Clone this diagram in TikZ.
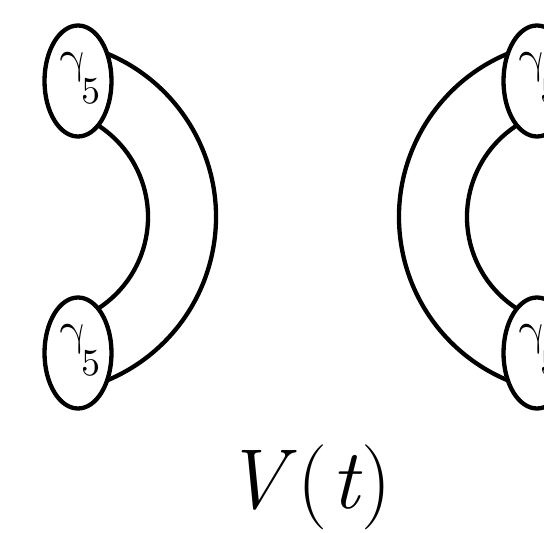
\documentclass[tikz,border=0pt]{standalone}
\usepackage{fontspec}
\newfontfamily\mfont{latinmodern-math.otf}
\usetikzlibrary{shapes.geometric}
\newcommand\gamfive{\hspace*{4pt}{\mfont\fontsize{46}{46}\selectfont γ\kern-4pt\raisebox{-31pt}{\fontsize{38}{38}\selectfont 5}}}
\begin{document}
\begin{tikzpicture}[x=1pt,y=1pt,
  vert/.style={ellipse, draw, line width=4.3pt, fill=white, minimum width=67pt, minimum height=111pt, inner sep=0pt, text height=22pt, text depth=38pt},
  prop/.style={line width=4.3pt}]
\useasboundingbox (0,0) rectangle (544,533);
\clip (0,0) rectangle (544,533);
\coordinate (cL) at (39,316);
\coordinate (cR) at (576,316);
% left diagram
\draw[prop] (cL) ++(78:177pt) arc[start angle=78,end angle=-78,radius=177pt];
\draw[prop] (cL) ++(70:109pt) arc[start angle=70,end angle=-70,radius=109pt];
\node[vert] (t1) at (78,452) {\gamfive};
\node[vert] (b1) at (78,180) {\gamfive};
% right diagram
\draw[prop] (cR) ++(102:177pt) arc[start angle=102,end angle=258,radius=177pt];
\draw[prop] (cR) ++(110:109pt) arc[start angle=110,end angle=250,radius=109pt];
\node[vert] (t2) at (537,452) {\gamfive};
\node[vert] (b2) at (537,180) {\gamfive};
% label
\node[anchor=base, inner sep=0pt] (lab) at (308,24) {\fontsize{85}{100}\selectfont\itshape V\kern12pt\upshape(\kern3pt\itshape t\kern3pt\upshape)};
\end{tikzpicture}
\end{document}
